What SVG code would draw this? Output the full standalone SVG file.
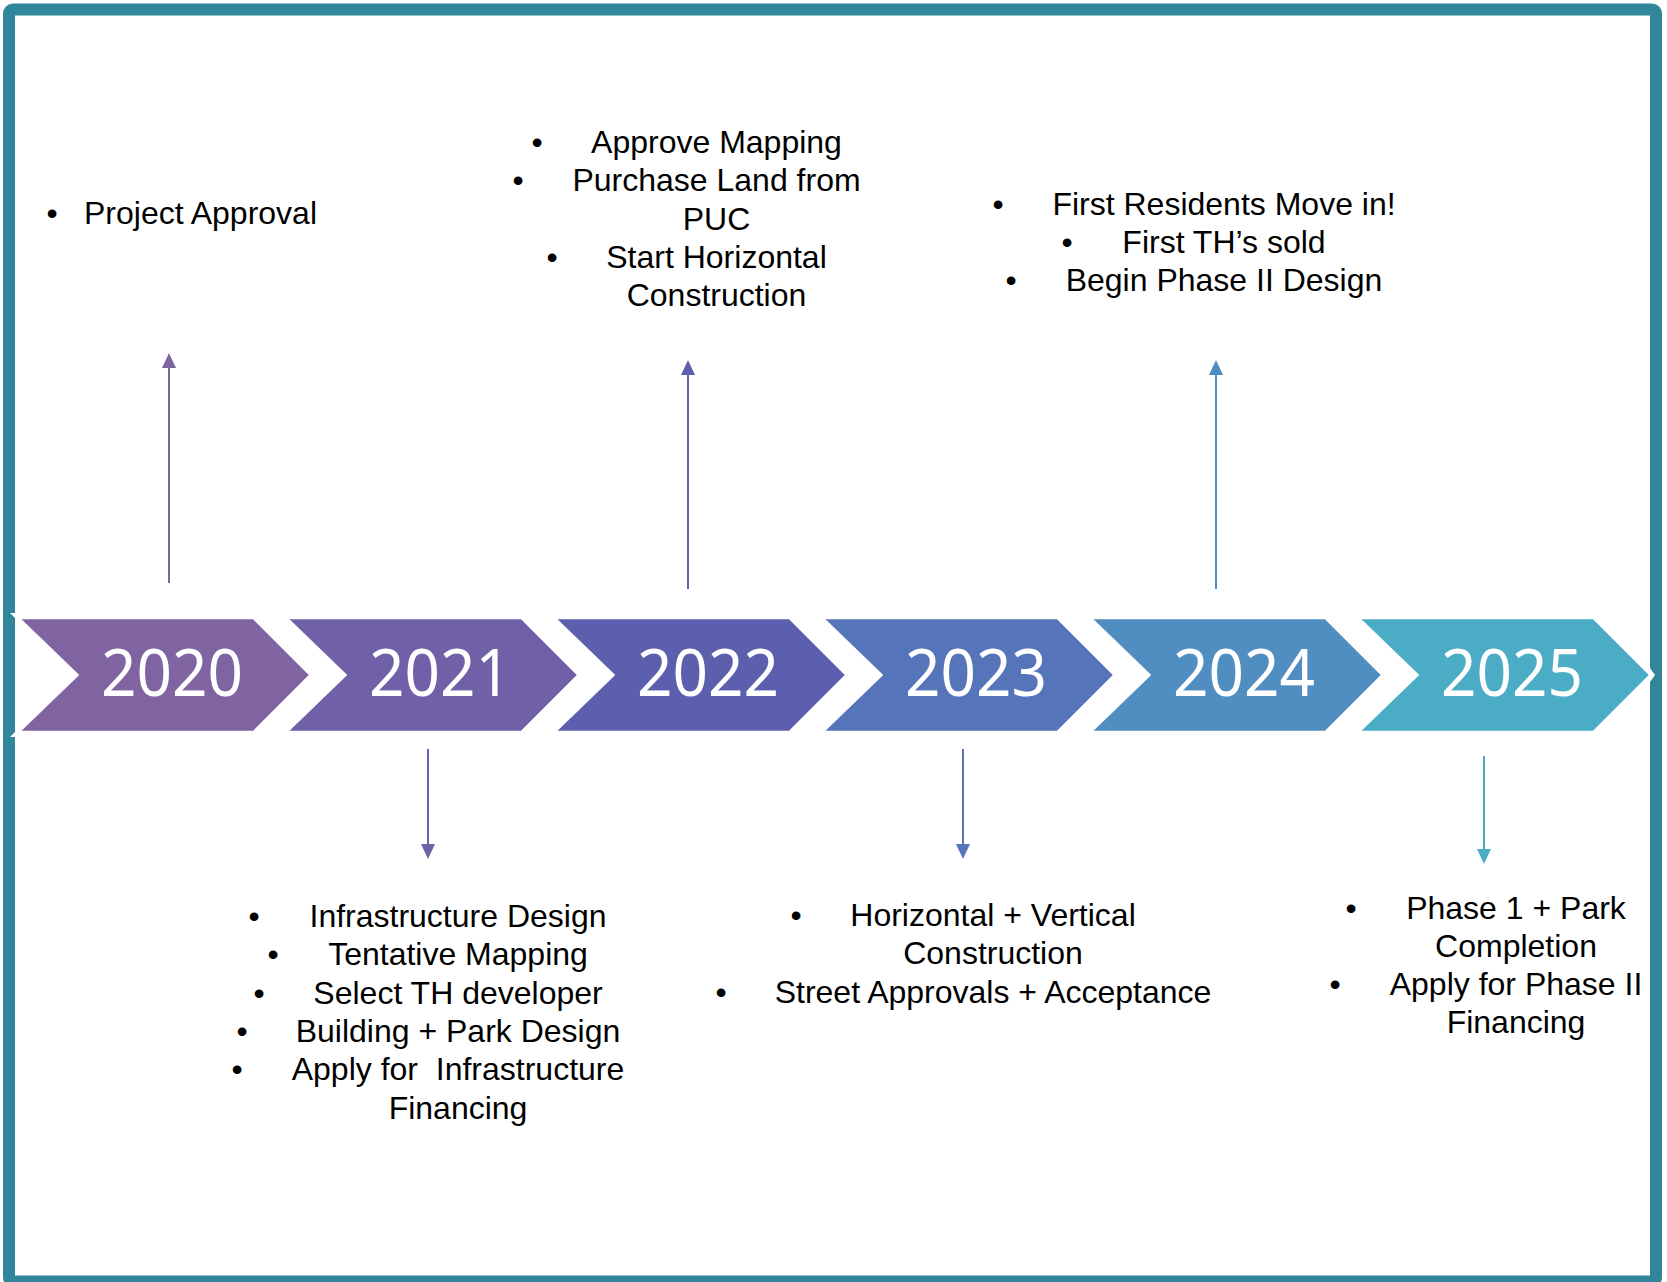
<svg xmlns="http://www.w3.org/2000/svg" width="1667" height="1282" viewBox="0 0 1667 1282">
<style>
.yr{font-family:"Noto Sans","Open Sans",sans-serif;font-size:66px;fill:#fff;text-anchor:middle}
.t{font-family:"Liberation Sans",Arial,sans-serif;font-size:32px;fill:#000}
.c{text-anchor:middle}
.b{font-family:"Liberation Sans",Arial,sans-serif;font-size:32px;fill:#000;text-anchor:middle}
.chev{stroke:#fff;stroke-opacity:0.5;stroke-width:1}
.conn{stroke-width:2;fill:none}
</style>
<defs>
<marker id="m0" markerUnits="userSpaceOnUse" viewBox="0 0 15 14" refX="0" refY="7" markerWidth="15" markerHeight="14" orient="auto"><path d="M0,0 L15,7 L0,14 z" fill="#8064A2"/></marker>
<marker id="m1" markerUnits="userSpaceOnUse" viewBox="0 0 15 14" refX="0" refY="7" markerWidth="15" markerHeight="14" orient="auto"><path d="M0,0 L15,7 L0,14 z" fill="#6F60A8"/></marker>
<marker id="m2" markerUnits="userSpaceOnUse" viewBox="0 0 15 14" refX="0" refY="7" markerWidth="15" markerHeight="14" orient="auto"><path d="M0,0 L15,7 L0,14 z" fill="#5B5FAE"/></marker>
<marker id="m3" markerUnits="userSpaceOnUse" viewBox="0 0 15 14" refX="0" refY="7" markerWidth="15" markerHeight="14" orient="auto"><path d="M0,0 L15,7 L0,14 z" fill="#5674B9"/></marker>
<marker id="m4" markerUnits="userSpaceOnUse" viewBox="0 0 15 14" refX="0" refY="7" markerWidth="15" markerHeight="14" orient="auto"><path d="M0,0 L15,7 L0,14 z" fill="#508DC0"/></marker>
<marker id="m5" markerUnits="userSpaceOnUse" viewBox="0 0 15 14" refX="0" refY="7" markerWidth="15" markerHeight="14" orient="auto"><path d="M0,0 L15,7 L0,14 z" fill="#4BACC6"/></marker>
</defs>
<rect width="1667" height="1282" fill="#fff"/>
<rect id="frame" x="9" y="9.5" width="1647" height="1272" rx="4" fill="none" stroke="#31869B" stroke-width="12"/>
<polygon points="10,613 16,613 16,619" fill="#fff"/>
<polygon points="16,731 16,737 10,737" fill="#fff"/>
<polygon points="1650,668 1655,675 1650,682" fill="#fff"/>

<g id="y2020"><polygon class="chev" fill="#8064A2" points="21,619 253,619 309,675 253,731 21,731 79,675"/><text class="yr" x="172" y="696" textLength="142" lengthAdjust="spacingAndGlyphs">2020</text></g>
<g id="y2021"><polygon class="chev" fill="#6F60A8" points="289,619 521,619 577,675 521,731 289,731 347,675"/><text class="yr" x="440" y="696" textLength="142" lengthAdjust="spacingAndGlyphs">2021</text></g>
<g id="y2022"><polygon class="chev" fill="#5B5FAE" points="557,619 789,619 845,675 789,731 557,731 615,675"/><text class="yr" x="708" y="696" textLength="142" lengthAdjust="spacingAndGlyphs">2022</text></g>
<g id="y2023"><polygon class="chev" fill="#5674B9" points="825,619 1057,619 1113,675 1057,731 825,731 883,675"/><text class="yr" x="976" y="696" textLength="142" lengthAdjust="spacingAndGlyphs">2023</text></g>
<g id="y2024"><polygon class="chev" fill="#508DC0" points="1093,619 1325,619 1381,675 1325,731 1093,731 1151,675"/><text class="yr" x="1244" y="696" textLength="142" lengthAdjust="spacingAndGlyphs">2024</text></g>
<g id="y2025"><polygon class="chev" fill="#4BACC6" points="1361,619 1593,619 1649,675 1593,731 1361,731 1419,675"/><text class="yr" x="1512" y="696" textLength="142" lengthAdjust="spacingAndGlyphs">2025</text></g>

<g id="connectors">
<line class="conn" stroke="#8064A2" x1="169" y1="583" x2="169" y2="368" marker-end="url(#m0)"/>
<line class="conn" stroke="#5B5FAE" x1="688" y1="589" x2="688" y2="375" marker-end="url(#m2)"/>
<line class="conn" stroke="#508DC0" x1="1216" y1="589" x2="1216" y2="375" marker-end="url(#m4)"/>
<line class="conn" stroke="#6F60A8" x1="428" y1="749" x2="428" y2="844" marker-end="url(#m1)"/>
<line class="conn" stroke="#5674B9" x1="963" y1="749" x2="963" y2="844" marker-end="url(#m3)"/>
<line class="conn" stroke="#4BACC6" x1="1484" y1="756" x2="1484" y2="849" marker-end="url(#m5)"/>
</g>

<g id="n2020">
<text class="b" x="52" y="224">•</text>
<text class="t" x="84" y="224">Project Approval</text>
</g>
<g id="n2022">
<text class="b" x="537" y="153">•</text><text class="t c" x="716.5" y="153">Approve Mapping</text>
<text class="b" x="518" y="191.3">•</text><text class="t c" x="716.5" y="191.3">Purchase Land from</text>
<text class="t c" x="716.5" y="229.6">PUC</text>
<text class="b" x="552" y="267.9">•</text><text class="t c" x="716.5" y="267.9">Start Horizontal</text>
<text class="t c" x="716.5" y="306.2">Construction</text>
</g>
<g id="n2024">
<text class="b" x="998" y="214.7">•</text><text class="t c" x="1224" y="214.7">First Residents Move in!</text>
<text class="b" x="1067" y="253">•</text><text class="t c" x="1224" y="253">First TH’s sold</text>
<text class="b" x="1011" y="291.3">•</text><text class="t c" x="1224" y="291.3">Begin Phase II Design</text>
</g>
<g id="n2021">
<text class="b" x="254" y="927">•</text><text class="t c" x="458" y="927">Infrastructure Design</text>
<text class="b" x="273" y="965.3">•</text><text class="t c" x="458" y="965.3">Tentative Mapping</text>
<text class="b" x="259" y="1003.6">•</text><text class="t c" x="458" y="1003.6">Select TH developer</text>
<text class="b" x="242" y="1041.9">•</text><text class="t c" x="458" y="1041.9">Building + Park Design</text>
<text class="b" x="237" y="1080.2">•</text><text class="t c" x="458" y="1080.2" xml:space="preserve">Apply for  Infrastructure</text>
<text class="t c" x="458" y="1118.5">Financing</text>
</g>
<g id="n2023">
<text class="b" x="796" y="926">•</text><text class="t c" x="993" y="926">Horizontal + Vertical</text>
<text class="t c" x="993" y="964.3">Construction</text>
<text class="b" x="721" y="1002.6">•</text><text class="t c" x="993" y="1002.6">Street Approvals + Acceptance</text>
</g>
<g id="n2025">
<text class="b" x="1351" y="918.5">•</text><text class="t c" x="1516" y="918.5">Phase 1 + Park</text>
<text class="t c" x="1516" y="956.8">Completion</text>
<text class="b" x="1335" y="995.1">•</text><text class="t c" x="1516" y="995.1">Apply for Phase II</text>
<text class="t c" x="1516" y="1033.4">Financing</text>
</g>
</svg>
